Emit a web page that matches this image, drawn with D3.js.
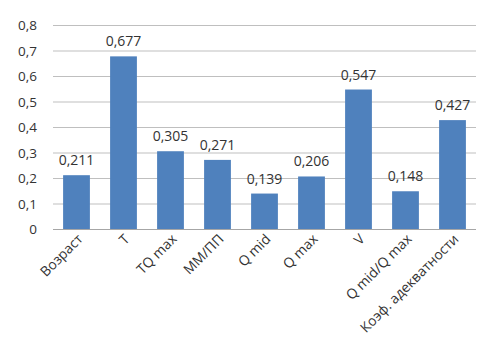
<!DOCTYPE html>
<html><head><meta charset="utf-8">
<script src="https://cdn.jsdelivr.net/npm/d3@7"></script>
<style>body{margin:0;background:#fff}svg text{font-family:"Open Sans",sans-serif;fill:#333}</style>
</head><body><svg id="c" width="490" height="359"></svg>
<script>
const categories = ["Возраст","T","TQ max","ММ/ПП","Q mid","Q max","V","Q mid/Q max","Коэф. адекватности"];
const values = [0.211,0.677,0.305,0.271,0.139,0.206,0.547,0.148,0.427];
const yTicks = [0,0.1,0.2,0.3,0.4,0.5,0.6,0.7,0.8];
const fmt = v => String(v).replace(".", ",");

const svg = d3.select("#c");
const m = {l:53, r:476, t:25, b:229};
const x = d3.scaleBand().domain(categories).range([m.l, m.r]).paddingInner(0.43).paddingOuter(0.215);
const y = d3.scaleLinear().domain([0,0.8]).range([m.b, m.t]);

svg.append("g").selectAll("line").data(yTicks).join("line")
  .attr("x1", m.l).attr("x2", m.r).attr("y1", d=>y(d)+0.5).attr("y2", d=>y(d)+0.5)
  .attr("stroke", d=> d===0 ? "#a6a6a6" : "#bfbfbf").attr("stroke-width", 1.2);

svg.append("g").selectAll("text").data(yTicks).join("text")
  .attr("x", 37).attr("y", d=>y(d)+5).attr("text-anchor","end")
  .attr("font-size", 13.5).text(d => d===0 ? "0" : fmt(+d.toFixed(1)));

svg.append("g").selectAll("rect").data(values).join("rect")
  .attr("x", (d,i)=>x(categories[i])).attr("width", x.bandwidth())
  .attr("y", d=>y(d)).attr("height", d=>y(0)-y(d)).attr("fill", "#4f81bd");

svg.append("g").selectAll("text").data(values).join("text")
  .attr("x", (d,i)=>x(categories[i])+x.bandwidth()/2).attr("y", d=>y(d)-10)
  .attr("text-anchor","middle").attr("font-size", 14).text(d=>fmt(d));

svg.append("g").selectAll("text").data(categories).join("text")
  .attr("transform", d=>`translate(${x(d)+x.bandwidth()/2+7},${m.b+11}) rotate(-45)`)
  .attr("text-anchor","end").attr("font-size", 13.8).text(d=>d);
</script></body></html>
